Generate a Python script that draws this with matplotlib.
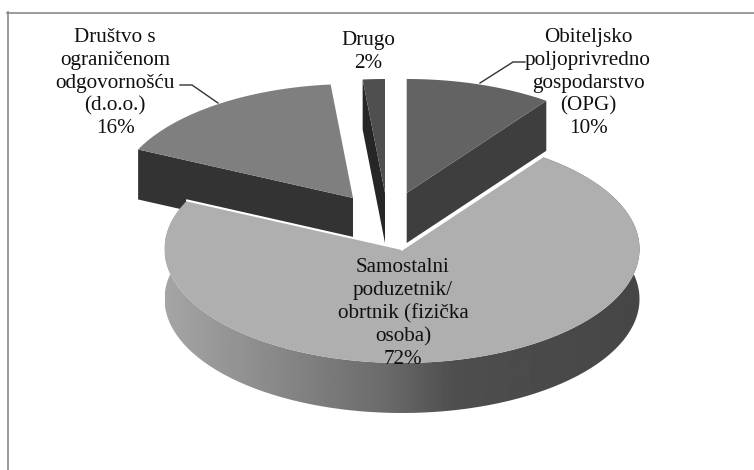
import numpy as np
import matplotlib
matplotlib.use('Agg')
import matplotlib.pyplot as plt
from matplotlib.patches import Polygon, PathPatch
from matplotlib.path import Path

# shares as measured from the slice angles, labels as printed
names = ['Obiteljsko\npoljoprivredno\ngospodarstvo\n(OPG)',
         'Samostalni\npoduzetnik/\nobrtnik (fizička\nosoba)',
         'Društvo s\nograničenom\nodgovornošću\n(d.o.o.)',
         'Drugo']
shares = [10, 72, 16.5, 1.5]
printed = ['10%', '72%', '16%', '2%']
top_colors = ['#636363', '#afafaf', '#7f7f7f', '#4f4f4f']
side_colors = ['#3e3e3e', '#484848', '#333333', '#262626']
# apex of each slice, pixels
apex_x = [406.7, 402, 353, 385]
apex_y = [193, 249, 198, 193]

W, H = 754, 470
RX, RY, DEPTH = 237.5, 114, 50

plt.rcParams['font.family'] = ['Liberation Serif', 'DejaVu Serif']
fig = plt.figure(figsize=(W / 100, H / 100), dpi=100)
ax = fig.add_axes([0, 0, 1, 1])
ax.set_xlim(0, W)
ax.set_ylim(H, 0)
ax.axis('off')


def rim(cx, cy, a0, a1, n=200):
    a = np.radians(np.linspace(a0, a1, n))
    return cx + RX * np.sin(a), cy - RY * np.cos(a)


def wall(p, q, color, z):
    pts = [p, q, (q[0], q[1] + DEPTH), (p[0], p[1] + DEPTH)]
    ax.add_patch(Polygon(pts, closed=True, fc=color, ec='none', zorder=z))


# frame: only top and left edges are visible
ax.plot([7, W], [12.5, 12.5], color='#8a8a8a', lw=1.2, zorder=0)
ax.plot([7.5, 7.5], [12, H], color='#8a8a8a', lw=1.2, zorder=0)

angles = np.concatenate([[0], np.cumsum(shares) * 3.6])

# big slice: curved side with a horizontal gradient
cx, cy = apex_x[1], apex_y[1]
xs, ys = rim(cx, cy, angles[1], angles[2])
side_x = np.concatenate([xs, xs[::-1]])
side_y = np.concatenate([ys, ys[::-1] + DEPTH])
side = PathPatch(Path(np.column_stack([side_x, side_y])), fc='none', ec='none', zorder=1)
ax.add_patch(side)
grad = np.interp(np.linspace(0, 1, 256), [0, 0.19, 0.47, 0.61, 1], [165, 142, 106, 78, 70])
im = ax.imshow(grad[None, :], extent=[cx - RX, cx + RX, H, 0], cmap='gray', vmin=0, vmax=255,
               aspect='auto', zorder=1)
im.set_clip_path(side)
ax.set_xlim(0, W)
ax.set_ylim(H, 0)

# big slice top goes over the d.o.o. wall, with a thin white edge
ax.add_patch(Polygon(np.column_stack([np.r_[cx, xs], np.r_[cy, ys]]), closed=True,
                     fc=top_colors[1], ec='none', zorder=3))
ax.plot([cx, xs[-1]], [cy, ys[-1]], color='white', lw=1.5, zorder=3.1)
ax.plot([cx, xs[0]], [cy, ys[0]], color='white', lw=2, zorder=3.1)

# exploded slices
for i in [0, 2, 3]:
    cx, cy = apex_x[i], apex_y[i]
    xs, ys = rim(cx, cy, angles[i], angles[i + 1])
    # OPG shows its right cut edge, the other two their left one
    if i == 0:
        wall((cx, cy), (xs[-1], ys[-1]), side_colors[i], 4)
    elif i == 2:
        wall((cx, cy), (xs[0], ys[0]), side_colors[i], 2)
    else:
        wall((cx, cy), (xs[0], ys[0]), side_colors[i], 4)
    ax.add_patch(Polygon(np.column_stack([np.r_[cx, xs], np.r_[cy, ys]]), closed=True,
                         fc=top_colors[i], ec='none', zorder=4.5))

# labels
label_x = [588, 403, 115, 368]
label_y = [28, 258, 28, 31]
for i in range(4):
    ax.text(label_x[i], label_y[i], names[i] + '\n' + printed[i], ha='center', va='top',
            fontsize=15.2, color='#111111', linespacing=1.27, zorder=6)

# leader lines
ax.plot([180, 192, 218], [85, 85, 103], color='#333333', lw=1, zorder=5)
ax.plot([525, 513, 480], [62, 62, 83], color='#333333', lw=1, zorder=5)

fig.savefig('out.png', dpi=100, facecolor='white')
